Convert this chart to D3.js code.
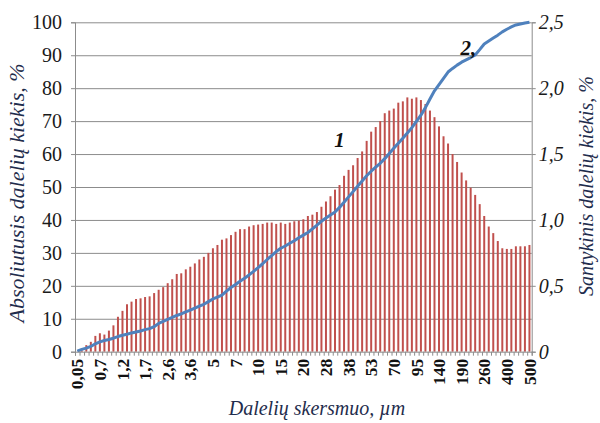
<!DOCTYPE html>
<html>
<head>
<meta charset="utf-8">
<script src="https://cdn.jsdelivr.net/npm/d3@7"></script>
<style>
  html, body { margin: 0; padding: 0; background: #fff; }
  svg { display: block; font-family: "Liberation Serif", "Times New Roman", serif; }
</style>
</head>
<body>
<svg id="chart" width="600" height="423"></svg>
<script>
// Size-class tick labels (one label every 5th class), µm
const tickLabels = ["0,05", "0,7", "1,2", "1,7", "2,6", "3,6", "5", "7", "10", "15", "20",
                    "28", "38", "53", "70", "95", "140", "190", "260", "400", "500"];

// Relative amount per size class, % (right axis) — series 1
const relative = [
  0, 0.01, 0.05, 0.075, 0.12, 0.14, 0.13, 0.16, 0.20, 0.265,
  0.31, 0.36, 0.38, 0.40, 0.405, 0.415, 0.42, 0.445, 0.47, 0.49,
  0.52, 0.55, 0.59, 0.595, 0.625, 0.645, 0.67, 0.70, 0.72, 0.75,
  0.785, 0.81, 0.85, 0.86, 0.885, 0.91, 0.93, 0.93, 0.95, 0.96,
  0.965, 0.97, 0.98, 0.98, 0.97, 0.98, 0.97, 0.98, 0.99, 0.995,
  1.005, 1.03, 1.04, 1.06, 1.10, 1.14, 1.18, 1.23, 1.265, 1.335,
  1.38, 1.415, 1.47, 1.52, 1.60, 1.67, 1.705, 1.75, 1.81, 1.83,
  1.845, 1.89, 1.90, 1.93, 1.92, 1.93, 1.91, 1.88, 1.83, 1.78,
  1.71, 1.635, 1.58, 1.50, 1.44, 1.36, 1.30, 1.245, 1.19, 1.12,
  1.03, 0.95, 0.90, 0.84, 0.785, 0.78, 0.78, 0.80, 0.80, 0.80,
  0.81
];

// Cumulative (absolute) amount, % (left axis) — series 2
const cumulative = [
  0.2, 0.7, 1.1, 1.6, 2.4, 3.0, 3.4, 3.7, 4.1, 4.6,
  5.0, 5.3, 5.7, 6.0, 6.3, 6.7, 7.0, 7.6, 8.6, 9.2,
  9.8, 10.4, 11.0, 11.5, 12.1, 12.6, 13.2, 13.8, 14.4, 15.2,
  16.0, 16.6, 17.2, 18.4, 19.5, 20.4, 21.4, 22.3, 23.3, 24.4,
  25.5, 26.7, 28.0, 29.2, 30.4, 31.4, 32.1, 32.9, 33.7, 34.6,
  35.4, 36.2, 37.3, 38.4, 39.6, 40.6, 41.5, 42.4, 43.8, 45.4,
  47.0, 48.6, 50.2, 51.8, 53.4, 54.8, 56.0, 57.2, 58.6, 60.2,
  61.8, 63.3, 64.8, 66.4, 68.0, 69.9, 71.8, 74.1, 76.7, 79.2,
  81.1, 83.0, 84.9, 86.0, 87.0, 87.9, 88.6, 89.3, 90.1, 91.7,
  93.4, 94.3, 95.2, 96.1, 97.1, 97.9, 98.6, 99.2, 99.5, 99.8,
  100
];

const leftTicks = [0, 10, 20, 30, 40, 50, 60, 70, 80, 90, 100];
const rightTicks = [0, 0.5, 1.0, 1.5, 2.0, 2.5];
const labelEvery = 5;

const svg = d3.select("#chart");
const plot = { left: 75, right: 531.7, top: 22.3, bottom: 351.7 };
const n = relative.length;

const x = d3.scaleBand().domain(d3.range(n)).range([plot.left, plot.right]).padding(0);
const xEdge = d3.scaleLinear().domain([0, n]).range([plot.left, plot.right]);
const xMid = i => xEdge(i + 0.5);
const yLeft = d3.scaleLinear().domain([0, 100]).range([plot.bottom, plot.top]);
const yRight = d3.scaleLinear().domain([0, 2.5]).range([plot.bottom, plot.top]);

const gridColor = "#8c8c8c";
const fmtComma = d => d === 0 ? "0" : d3.format(".1f")(d).replace(".", ",");

// Horizontal gridlines
svg.append("g")
  .attr("transform", `translate(${plot.left},0)`)
  .call(d3.axisLeft(yLeft).tickValues(leftTicks.slice(1)).tickSize(-(plot.right - plot.left)).tickFormat(""))
  .call(g => g.select(".domain").remove())
  .call(g => g.selectAll("line").attr("stroke", gridColor).attr("stroke-width", 1));

// Bars — relative amount
const barW = x.bandwidth() * 0.44;
svg.append("g").selectAll("rect")
  .data(relative)
  .join("rect")
  .attr("x", (d, i) => x(i) + x.bandwidth() / 2 - barW / 2)
  .attr("y", d => yRight(d))
  .attr("width", barW)
  .attr("height", d => yRight(0) - yRight(d))
  .attr("fill", "#c0504d");

// Cumulative line
const line = d3.line()
  .x((d, i) => x(i) + x.bandwidth() / 2)
  .y(d => yLeft(d));
svg.append("path")
  .datum(cumulative)
  .attr("d", line)
  .attr("fill", "none")
  .attr("stroke", "#4f81bd")
  .attr("stroke-width", 3)
  .attr("stroke-linejoin", "round");

// Left axis
svg.append("g")
  .attr("transform", `translate(${plot.left},0)`)
  .call(d3.axisLeft(yLeft).tickValues(leftTicks).tickSize(4).tickPadding(9))
  .call(g => g.select(".domain").attr("stroke", gridColor))
  .call(g => g.selectAll("line").attr("stroke", gridColor))
  .call(g => g.selectAll("text")
    .attr("font-family", "Liberation Serif, Times New Roman, serif")
    .attr("font-size", 20).attr("fill", "#1a1a1a"));

// Right axis
svg.append("g")
  .attr("transform", `translate(${plot.right},0)`)
  .call(d3.axisRight(yRight).tickValues(rightTicks).tickSize(4).tickPadding(3).tickFormat(fmtComma))
  .call(g => g.select(".domain").attr("stroke", gridColor))
  .call(g => g.selectAll("line").attr("stroke", gridColor))
  .call(g => g.selectAll("text")
    .attr("font-family", "Liberation Serif, Times New Roman, serif")
    .attr("font-style", "italic")
    .attr("font-size", 20).attr("fill", "#1a1a1a"));

// Bottom axis: tick marks at class boundaries
svg.append("g")
  .attr("transform", `translate(0,${plot.bottom})`)
  .call(d3.axisBottom(xEdge).tickValues(d3.range(0, n + 1)).tickSize(4).tickFormat(""))
  .call(g => g.select(".domain").attr("stroke", gridColor))
  .call(g => g.selectAll("line").attr("stroke", gridColor));

// Bottom axis: rotated size labels
svg.append("g")
  .attr("transform", `translate(0,${plot.bottom})`)
  .call(d3.axisBottom(x)
    .tickValues(d3.range(0, n, labelEvery))
    .tickSize(0)
    .tickFormat(i => tickLabels[i / labelEvery]))
  .call(g => g.select(".domain").remove())
  .call(g => g.selectAll("text")
    .attr("font-family", "Liberation Serif, Times New Roman, serif")
    .attr("font-weight", "bold")
    .attr("font-size", 17.5)
    .attr("fill", "#111")
    .attr("text-anchor", "end")
    .attr("transform", "rotate(-90)")
    .attr("x", -7)
    .attr("y", 0)
    .attr("dy", "0.35em"));

// Axis titles
const titleStyle = (s, size) => s
  .attr("font-family", "Liberation Serif, Times New Roman, serif")
  .attr("font-style", "italic")
  .attr("font-size", size)
  .attr("fill", "#1f2d4d")
  .attr("text-anchor", "middle");

svg.append("text")
  .attr("transform", "translate(24,193) rotate(-90)")
  .text("Absoliutusis dalelių kiekis, %")
  .call(titleStyle, 22);

svg.append("text")
  .attr("transform", "translate(593,186) rotate(-90)")
  .text("Santykinis dalelių kiekis, %")
  .call(titleStyle, 20);

svg.append("text")
  .attr("x", 317).attr("y", 415)
  .text("Dalelių skersmuo, µm")
  .call(titleStyle, 20);

// Series markers "1" and "2,"
const tag = (i, v, t) => svg.append("text")
  .attr("x", xMid(i))
  .attr("y", yLeft(v))
  .attr("text-anchor", "middle")
  .attr("font-family", "Liberation Serif, Times New Roman, serif")
  .attr("font-style", "italic")
  .attr("font-weight", "bold")
  .attr("font-size", 21)
  .attr("fill", "#111")
  .text(t);
tag(58, 62, "1");
tag(86.5, 90, "2,");
</script>
</body>
</html>
